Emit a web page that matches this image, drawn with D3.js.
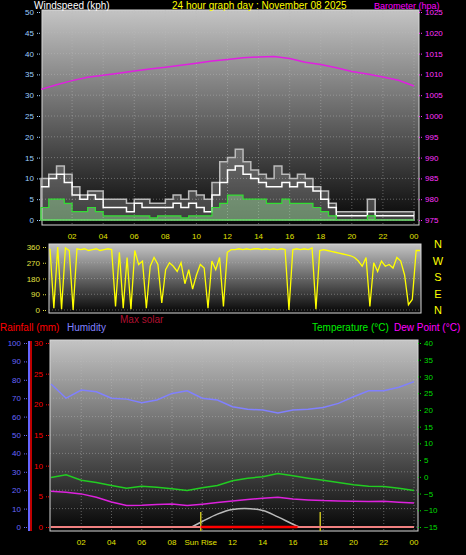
<!DOCTYPE html>
<html><head><meta charset="utf-8">
<script src="https://cdn.jsdelivr.net/npm/d3@7"></script>
<style>body{margin:0;background:#000}text{font-family:"Liberation Sans",Arial,sans-serif}</style>
</head><body>
<script>
// data
var hours = d3.range(0, 25);
var halfHours = d3.range(0, 24, 0.5);
var quarterHours = d3.range(0, 24.01, 0.25);
var windTicks = [0, 5, 10, 15, 20, 25, 30, 35, 40, 45, 50];
var baroTicks = [975, 980, 985, 990, 995, 1000, 1005, 1010, 1015, 1020, 1025];
var timeLabels = ["02", "04", "06", "08", "10", "12", "14", "16", "18", "20", "22", "00"];
var gust = [8,10,11,9,6,5,6,5,3,3,3,2,4,3,3,3,3,4,3,4,3,2,6,9,12,13,11,10,9,8,8,9,8,9,8,7,5,3,1,1,1,1,2,1,1,1,1,1];
var gustPeak = [10,11,13,11,8,6,7,7,5,5,5,4,5,5,4,4,5,6,5,7,6,5,9,14,15,17,14,12,11,10,13,11,10,11,10,8,7,4,2,2,2,2,5,2,2,2,2,2];
var speed = [3,5,5,4,2,2,3,2,1,1,1,1,1,1,0.5,1,1,1,0.5,1,1,1,3,4,6,6,5,5,5,4,4,5,4,4,4,3,2,1,0,0,0,0,1,0,0,0,0,0];
var baro = [1006.4,1007.5,1008.5,1009.3,1009.8,1010.3,1010.8,1011.3,1011.7,1012.2,1012.7,1013.2,1013.6,1014,1014.2,1014.3,1013.8,1012.9,1012.4,1011.6,1010.7,1010.1,1009.4,1008.6,1007.2];
var windDir = [350,10,360,5,355,340,0,350, 345,350,340,345,350,340,345,350,
  345,20,330,10,300,5,340,260, 280,10,250,300,260,40,230,270,
  250,220,270,150,230,120,200,260, 240,10,280,230,300,20,330,345,
  345,350,345,350,345,350,350,345, 350,345,350,345,350,345,0,345,
  350,345,350,345,355,5,340,345, 340,335,330,325,320,315,310,300,
  280,250,300,20,270,220,280,250, 260,240,300,280,200,30,60,340,340];
var dirTicks = [0, 90, 180, 270, 360];
var compass = ["N", "W", "S", "E", "N"];
var temp = [-0.2,0.6,-1,-1.7,-2.6,-3.4,-2.8,-3.1,-3.6,-4.1,-3.3,-2.6,-1.2,-0.4,0,1,0.3,-0.4,-1,-1.7,-2.4,-2.8,-2.9,-3.4,-4.1];
var dew = [-4.3,-4.6,-5.1,-6.1,-7.5,-8.6,-8.5,-8.3,-8.1,-8.6,-8.2,-7.7,-7.2,-6.8,-6.4,-6.1,-6.6,-6.9,-7.1,-7.2,-7.3,-7.4,-7.3,-7.6,-7.8];
var humidity = [77.7,70,74.4,73.5,70,69.5,67.6,69,72.6,74,70,69,65.4,64,63.6,62,63.6,64,65,67.2,70.8,74,74,76,79];
var solarHours = [9.3,10,11,12,12.8,14,15,16,16.4];
var solar = [0,3,7,9.5,10,9,5.5,1.5,0];
var rainTicks = [0, 5, 10, 15, 20, 25, 30];
var humTicks = [0, 10, 20, 30, 40, 50, 60, 70, 80, 90, 100];
var tempTicks = [-15, -10, -5, 0, 5, 10, 15, 20, 25, 30, 35, 40];
var sunRise = 9.9, sunSet = 17.8;
var rainDay = 16.3;

var svg = d3.select("body").append("svg").attr("width", 466).attr("height", 555);
var defs = svg.append("defs");
var grad = defs.append("linearGradient").attr("id", "bg").attr("x1", 0).attr("y1", 0).attr("x2", 0).attr("y2", 1);
grad.append("stop").attr("offset", "0%").attr("stop-color", "#c4c4c4");
grad.append("stop").attr("offset", "100%").attr("stop-color", "#050505");

function panel(x0, y0, x1, y1) {
  svg.append("rect").attr("x", x0).attr("y", y0).attr("width", x1 - x0).attr("height", y1 - y0)
    .attr("fill", "url(#bg)").attr("stroke", "#d8d8d8").attr("stroke-width", 1);
}
function grid(xs, ys, x0, x1, y0, y1) {
  var g = svg.append("g").attr("stroke", "#bbb").attr("stroke-opacity", 0.45).attr("stroke-dasharray", "1,2");
  ys.forEach(function(y) { g.append("line").attr("x1", x0).attr("x2", x1).attr("y1", y).attr("y2", y); });
  xs.forEach(function(x) { g.append("line").attr("x1", x).attr("x2", x).attr("y1", y0).attr("y2", y1); });
}
function label(x, y, t, c, size, anchor) {
  svg.append("text").attr("x", x).attr("y", y).attr("fill", c).attr("font-size", size)
    .attr("text-anchor", anchor || "start").text(t);
}
function yAxis(scale, ticks, x, color, side) {
  var ax = side == "left" ? d3.axisLeft(scale) : d3.axisRight(scale);
  var g = svg.append("g").attr("transform", "translate(" + x + ",0)")
    .call(ax.tickValues(ticks).tickFormat(d3.format("d")).tickSize(4).tickPadding(2));
  g.select(".domain").remove();
  g.selectAll("line").attr("stroke", color).attr("stroke-dasharray", "1,1");
  g.selectAll("text").attr("fill", color).attr("font-size", 8).style("font-family", "Liberation Sans, Arial, sans-serif");
  return g;
}
function xAxis(scale, y, labels) {
  labels.forEach(function(t, i) {
    label(scale(2 * (i + 1)), y, t, "#e0e000", 8, "middle");
  });
}

// ---- panel 1: wind and barometer
var x1 = d3.scaleLinear().domain([0, 24]).range([41, 414]);
var yWind = d3.scaleLinear().domain([0, 50]).range([220, 12]);
var yBaro = d3.scaleLinear().domain([975, 1025]).range([220, 12]);
panel(42, 10, 419, 225);
grid(d3.range(2, 25, 2).map(x1), windTicks.map(yWind), 42, 419, 10, 225);
yAxis(yWind, windTicks, 40, "#9ccfff", "left");
yAxis(yBaro, baroTicks, 419, "#ff33ff", "right");
xAxis(x1, 239, timeLabels);

svg.append("path").datum(halfHours.map(function(h, i) { return [h, gustPeak[i]]; }).concat([[24, 2]]))
  .attr("fill", "#ddd").attr("fill-opacity", 0.25).attr("stroke", "#bbb").attr("stroke-width", 1.5)
  .attr("d", d3.area().curve(d3.curveStepAfter).x(function(d) { return x1(d[0]); }).y0(yWind(0)).y1(function(d) { return yWind(d[1]); }));
svg.append("path").datum(halfHours.map(function(h, i) { return [h, gust[i]]; }).concat([[24, 1]]))
  .attr("fill", "none").attr("stroke", "#fff").attr("stroke-width", 1.5)
  .attr("d", d3.line().curve(d3.curveStepAfter).x(function(d) { return x1(d[0]); }).y(function(d) { return yWind(d[1]); }));
svg.append("path").datum(halfHours.map(function(h, i) { return [h, speed[i]]; }).concat([[24, 0]]))
  .attr("fill", "#9fe09f").attr("fill-opacity", 0.45).attr("stroke", "#33dd33").attr("stroke-width", 1.2)
  .attr("d", d3.area().curve(d3.curveStepAfter).x(function(d) { return x1(d[0]); }).y0(yWind(0)).y1(function(d) { return yWind(d[1]); }));
svg.append("path").datum(baro)
  .attr("fill", "none").attr("stroke", "#e020e0").attr("stroke-width", 1.5)
  .attr("d", d3.line().x(function(d, i) { return x1(hours[i]); }).y(function(d) { return yBaro(d); }));

label(34, 9, "Windspeed (kph)", "#fff", 10);
label(172, 9, "24 hour graph day : November 08 2025", "#ffff00", 10);
label(374, 8.5, "Barometer (hpa)", "#ff00ff", 9);

// ---- panel 2: wind direction
var x2 = d3.scaleLinear().domain([0, 24]).range([50, 420]);
var yDir = d3.scaleLinear().domain([0, 360]).range([310, 247]);
panel(49, 244, 421, 313);
grid([], dirTicks.map(yDir), 49, 421, 244, 313);
yAxis(yDir, dirTicks, 46, "#e0e040", "left");
svg.append("path").datum(windDir)
  .attr("fill", "none").attr("stroke", "#ffff00").attr("stroke-width", 1.3)
  .attr("d", d3.line().x(function(d, i) { return x2(quarterHours[i]); }).y(function(d) { return yDir(d); }));
compass.forEach(function(c, i) { label(438, 248 + i * 16.5, c, "#ffff00", 11, "middle"); });

// ---- panel 3: rain, humidity, temperature
var x3 = d3.scaleLinear().domain([0, 24]).range([51, 414]);
var yHum = d3.scaleLinear().domain([0, 100]).range([527, 343]);
var yRain = d3.scaleLinear().domain([0, 30]).range([527, 343]);
var yTemp = d3.scaleLinear().domain([-15, 40]).range([527, 343]);
panel(50, 340, 418, 531);
grid(d3.range(2, 25, 2).map(x3), humTicks.map(yHum), 50, 418, 340, 531);
svg.append("line").attr("x1", 29).attr("x2", 29).attr("y1", 341).attr("y2", 531).attr("stroke", "#6666ff").attr("stroke-width", 2);
svg.append("line").attr("x1", 31).attr("x2", 31).attr("y1", 341).attr("y2", 531).attr("stroke", "#ff0000").attr("stroke-width", 1.5);
yAxis(yHum, humTicks, 27, "#6666ff", "left");
yAxis(yRain, rainTicks, 49, "#ff0000", "left");
yAxis(yTemp, tempTicks, 418, "#00dd00", "right");
timeLabels.forEach(function(t, i) {
  var h = 2 * (i + 1);
  if (h == 10) label(x3(sunRise), 545, "Sun Rise", "#e0e000", 8, "middle");
  else label(x3(h), 545, t, "#e0e000", 8, "middle");
});

svg.append("path").datum(solar)
  .attr("fill", "none").attr("stroke", "#bbb").attr("stroke-width", 1.5)
  .attr("d", d3.line().curve(d3.curveMonotoneX).x(function(d, i) { return x3(solarHours[i]); }).y(function(d) { return yHum(d); }));
[sunRise, sunSet].forEach(function(h) {
  svg.append("line").attr("x1", x3(h)).attr("x2", x3(h)).attr("y1", 512).attr("y2", 531).attr("stroke", "#c8c020").attr("stroke-width", 1.5);
});
svg.append("line").attr("x1", x3(0)).attr("x2", x3(24)).attr("y1", yRain(0)).attr("y2", yRain(0)).attr("stroke", "#f08080").attr("stroke-width", 2);
svg.append("line").attr("x1", x3(sunRise)).attr("x2", x3(rainDay)).attr("y1", yRain(0)).attr("y2", yRain(0)).attr("stroke", "#ff0000").attr("stroke-width", 2.5);

var lineT = d3.line().x(function(d, i) { return x3(hours[i]); });
svg.append("path").datum(humidity).attr("fill", "none").attr("stroke", "#8080ff").attr("stroke-width", 1.5)
  .attr("d", lineT.y(function(d) { return yHum(d); }));
svg.append("path").datum(temp).attr("fill", "none").attr("stroke", "#22cc22").attr("stroke-width", 1.5)
  .attr("d", lineT.y(function(d) { return yTemp(d); }));
svg.append("path").datum(dew).attr("fill", "none").attr("stroke", "#dd22dd").attr("stroke-width", 1.5)
  .attr("d", lineT.y(function(d) { return yTemp(d); }));

label(0, 331, "Rainfall (mm)", "#ff0000", 10);
label(67, 331, "Humidity", "#8080ff", 10);
label(120, 323, "Max solar", "#b01030", 10);
label(312, 331, "Temperature (°C)", "#00ee00", 10);
label(394, 331, "Dew Point (°C)", "#ff00ff", 10);
</script>
</body></html>
